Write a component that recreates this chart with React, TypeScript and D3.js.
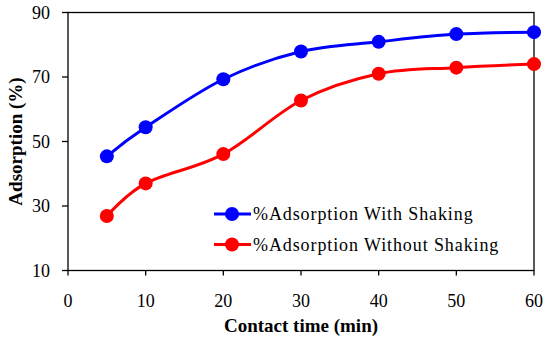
import React from "react";
import * as d3 from "d3";

const times = [5, 10, 20, 30, 40, 50, 60];
const withShaking = [45.4, 54.4, 69.3, 77.9, 80.9, 83.3, 83.9];
const withoutShaking = [26.9, 37.0, 46.1, 62.7, 71.0, 72.9, 74.0];
const xTicks = [0, 10, 20, 30, 40, 50, 60];
const yTicks = [10, 30, 50, 70, 90];
const seriesNames = ["%Adsorption With Shaking", "%Adsorption Without Shaking"];
const seriesColors = ["#0000ff", "#ff0000"];

const FONT = "Liberation Serif";

export default function App() {
  const W = 550, H = 339;
  const left = 68, right = 534, top = 12.5, bottom = 270.5;
  const x = d3.scaleLinear().domain([0, 60]).range([left, right]);
  const y = d3.scaleLinear().domain([10, 90]).range([bottom, top]);
  const line = d3
    .line<[number, number]>()
    .x((d) => x(d[0]))
    .y((d) => y(d[1]))
    .curve(d3.curveCardinal.tension(0));
  const series = [withShaking, withoutShaking];
  const ts = { fontFamily: FONT };
  return (
    <svg width={W} height={H} style={{ position: "absolute", left: 0, top: 0 }}>
      <rect x={0} y={0} width={W} height={H} fill="#fff" />
      <rect x={left} y={top} width={right - left} height={bottom - top} fill="none" stroke="#000" strokeWidth={1.3} />
      {yTicks.map((t) => (
        <g key={"y" + t}>
          <line x1={left - 6} x2={left} y1={y(t)} y2={y(t)} stroke="#000" strokeWidth={1.3} />
          <text x={50} y={y(t)} dy="0.35em" textAnchor="end" fontSize={18} style={ts}>
            {t}
          </text>
        </g>
      ))}
      {xTicks.map((t) => (
        <g key={"x" + t}>
          <line x1={x(t)} x2={x(t)} y1={bottom} y2={bottom + 5} stroke="#000" strokeWidth={1.3} />
          <text x={x(t)} y={307} textAnchor="middle" fontSize={18} style={ts}>
            {t}
          </text>
        </g>
      ))}
      <text
        transform={`translate(22,${(top + bottom) / 2}) rotate(-90)`}
        textAnchor="middle"
        fontSize={19}
        fontWeight="bold"
        style={ts}
      >
        Adsorption (%)
      </text>
      <text x={(left + right) / 2} y={332} textAnchor="middle" fontSize={19} fontWeight="bold" style={ts}>
        Contact time (min)
      </text>
      {series.map((s, i) => {
        const pts = times.map((t, j) => [t, s[j]] as [number, number]);
        return (
          <g key={"s" + i}>
            <path d={line(pts) || ""} fill="none" stroke={seriesColors[i]} strokeWidth={3} />
            {pts.map((p, j) => (
              <circle key={j} cx={x(p[0])} cy={y(p[1])} r={7} fill={seriesColors[i]} />
            ))}
          </g>
        );
      })}
      {seriesNames.map((n, i) => {
        const ly = 214 + i * 30.5;
        return (
          <g key={"l" + i}>
            <line x1={214} x2={251} y1={ly} y2={ly} stroke={seriesColors[i]} strokeWidth={3} />
            <circle cx={232} cy={ly} r={7} fill={seriesColors[i]} />
            <text x={253} y={ly} dy="0.35em" fontSize={18} letterSpacing={0.9} style={ts}>
              {n}
            </text>
          </g>
        );
      })}
    </svg>
  );
}
